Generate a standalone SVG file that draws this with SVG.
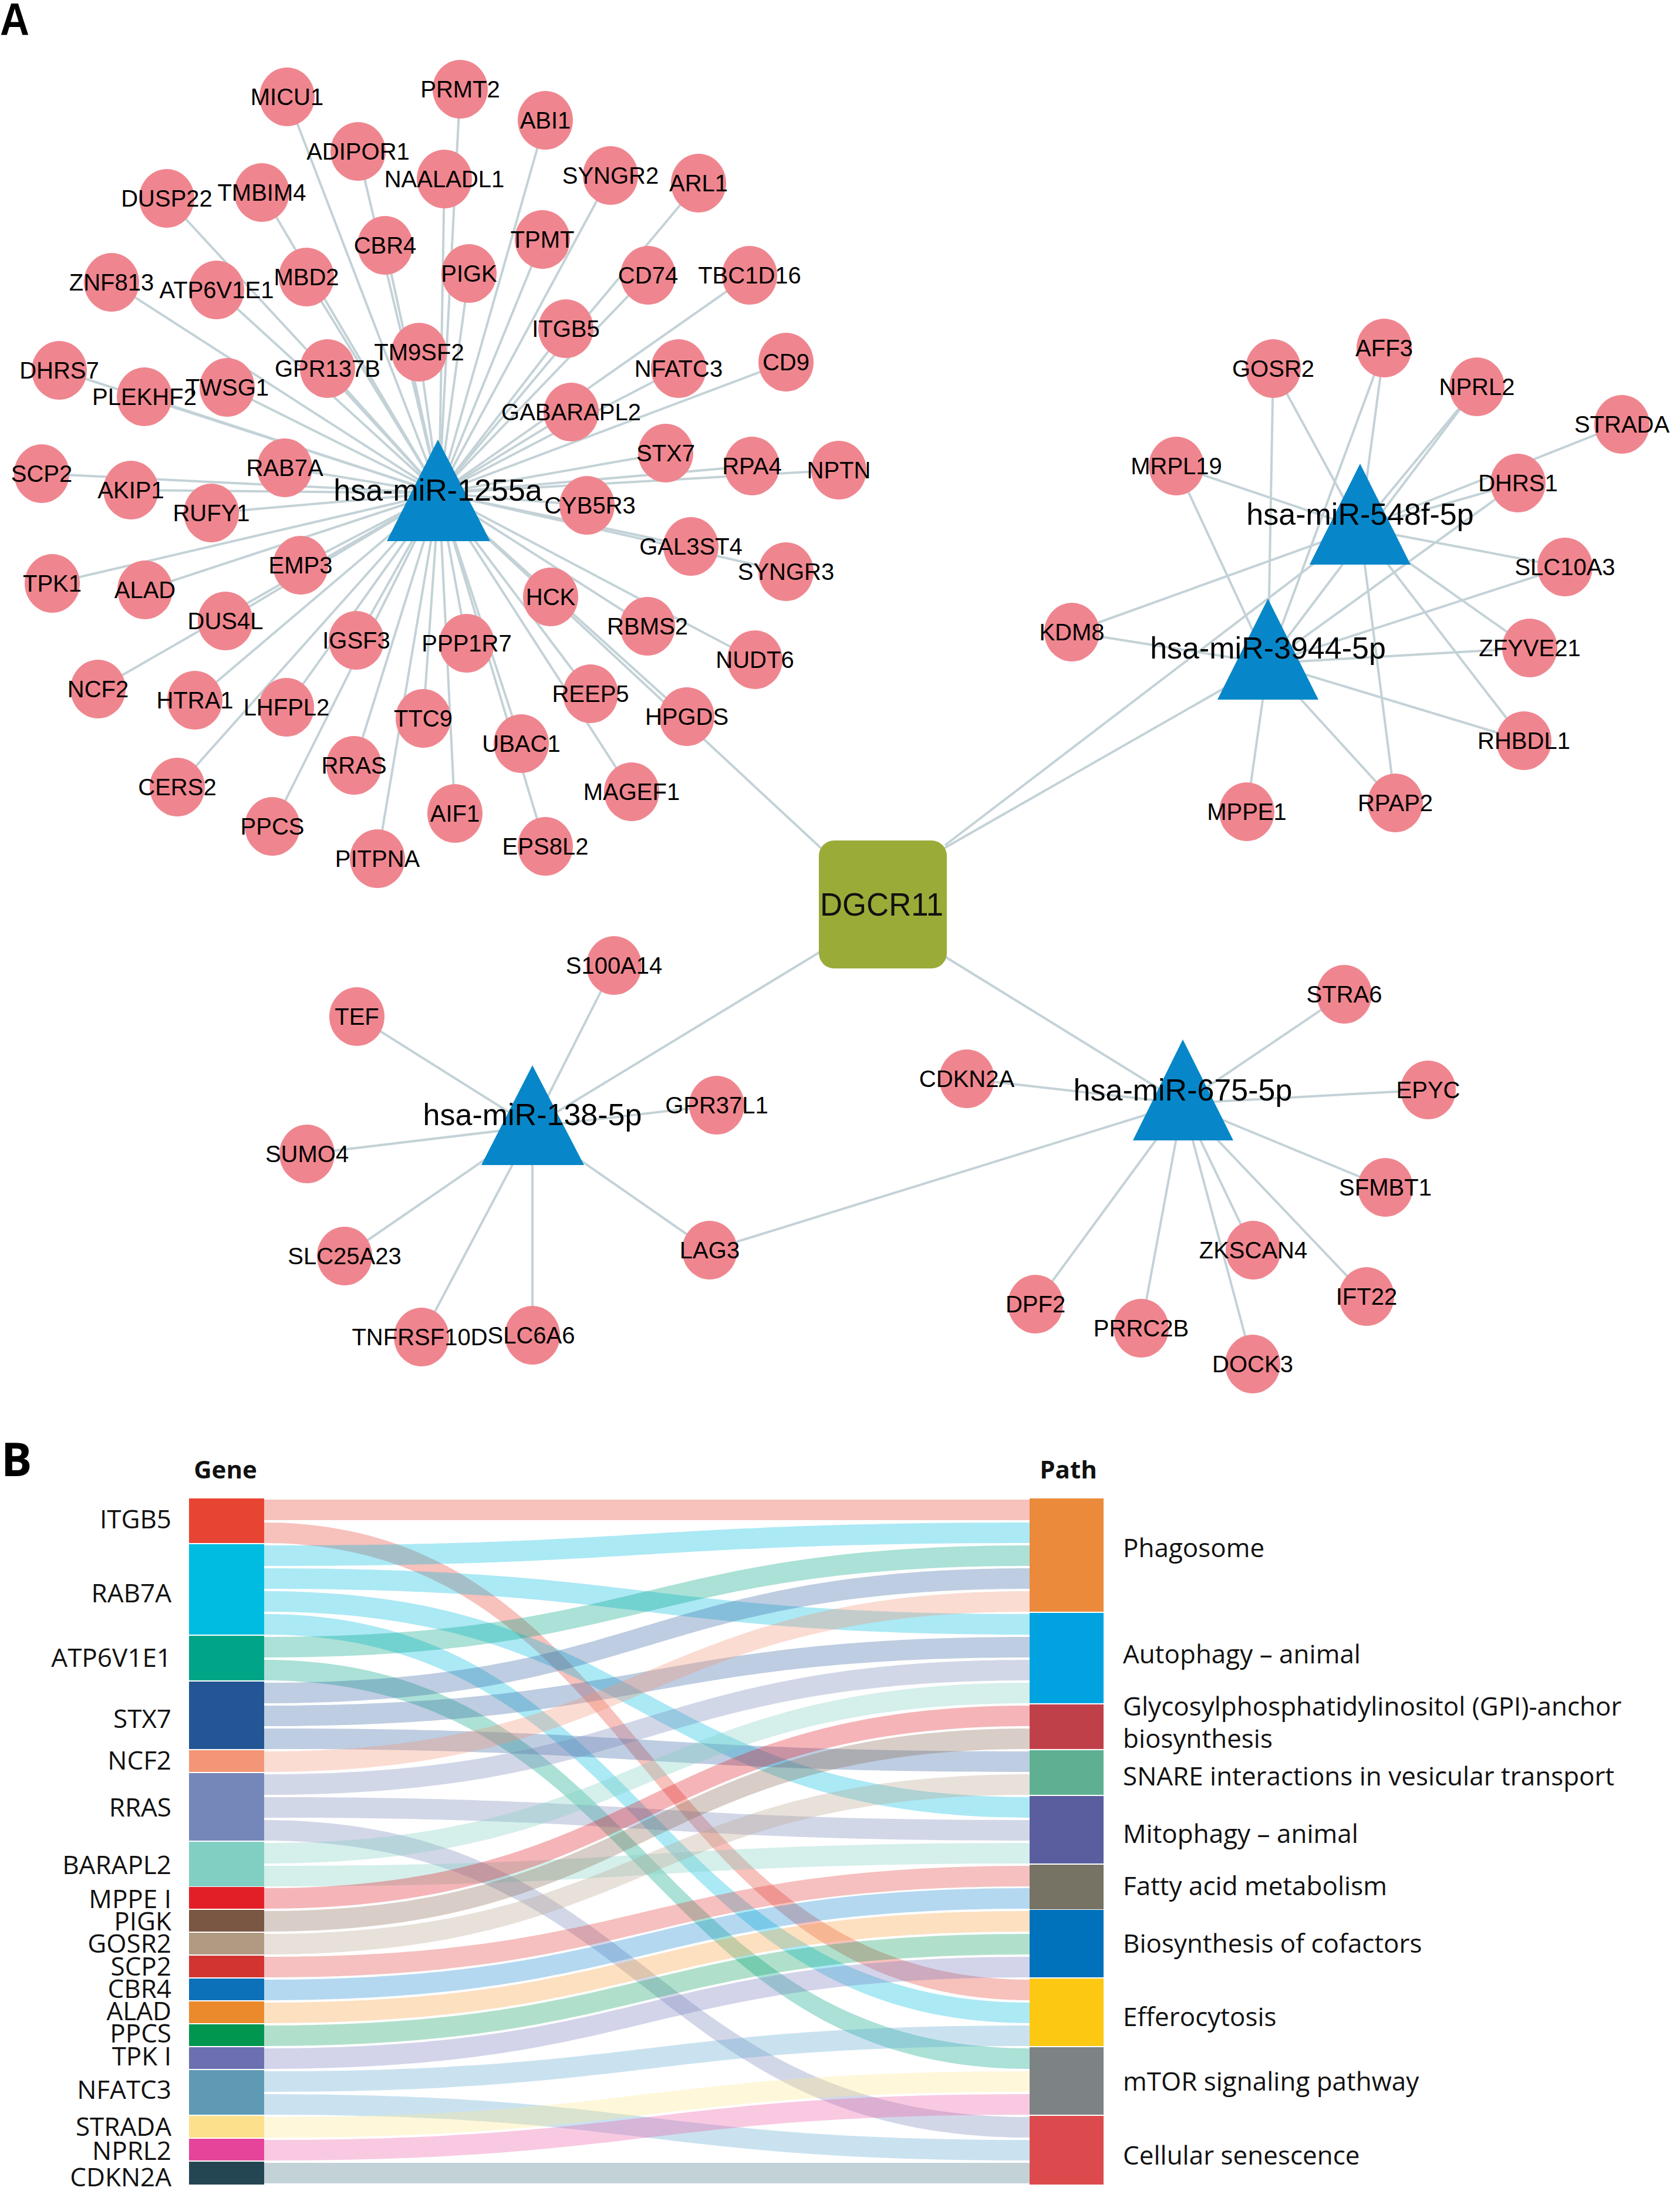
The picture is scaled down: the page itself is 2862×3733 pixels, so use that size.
<svg xmlns="http://www.w3.org/2000/svg" width="2862" height="3733" viewBox="0 0 2862 3733">
<style>
.e{stroke:#c3d2d7;stroke-width:4;fill:none}
.c{fill:#ef868f}
.tri{fill:#0787c9}
.g{font-family:"Liberation Sans",Arial,sans-serif;font-size:40px;text-anchor:middle;fill:#000}
.m{font-family:"Liberation Sans",Arial,sans-serif;font-size:52px;text-anchor:middle;fill:#000}
.gl{font-family:"Open Sans","Noto Sans",sans-serif;font-size:44px;text-anchor:end;fill:#111}
.pl{font-family:"Open Sans","Noto Sans",sans-serif;font-size:44px;fill:#111}
.hd{font-family:"Open Sans","Noto Sans",sans-serif;font-size:42px;font-weight:bold;text-anchor:middle;fill:#111}
.lk path{fill-opacity:0.33}
</style>
<rect width="2862" height="3733" fill="#fff"/>
<text x="0" y="60" font-family="Liberation Sans,Arial,sans-serif" font-size="78" font-weight="bold" textLength="50" lengthAdjust="spacingAndGlyphs">A</text>
<text x="2" y="2515" font-family="Open Sans,Noto Sans,sans-serif" font-size="78" font-weight="bold">B</text>
<g id="connectors">
<line class="e" x1="748" y1="840" x2="1504" y2="1543"/>
<line class="e" x1="1600" y1="1450" x2="2160" y2="1130"/>
<line class="e" x1="1610" y1="1440" x2="2317" y2="900"/>
<line class="e" x1="1400" y1="1620" x2="907" y2="1920"/>
<line class="e" x1="1610" y1="1630" x2="2015" y2="1880"/>
<line class="e" x1="748" y1="840" x2="489" y2="165"/>
<line class="e" x1="748" y1="840" x2="784" y2="152"/>
<line class="e" x1="748" y1="840" x2="929" y2="205"/>
<line class="e" x1="748" y1="840" x2="610" y2="258"/>
<line class="e" x1="748" y1="840" x2="757" y2="305"/>
<line class="e" x1="748" y1="840" x2="1040" y2="299"/>
<line class="e" x1="748" y1="840" x2="1190" y2="312"/>
<line class="e" x1="748" y1="840" x2="284" y2="338"/>
<line class="e" x1="748" y1="840" x2="446" y2="328"/>
<line class="e" x1="748" y1="840" x2="656" y2="418"/>
<line class="e" x1="748" y1="840" x2="924" y2="408"/>
<line class="e" x1="748" y1="840" x2="799" y2="466"/>
<line class="e" x1="748" y1="840" x2="1104" y2="469"/>
<line class="e" x1="748" y1="840" x2="1277" y2="469"/>
<line class="e" x1="748" y1="840" x2="190" y2="481"/>
<line class="e" x1="748" y1="840" x2="369" y2="494"/>
<line class="e" x1="748" y1="840" x2="522" y2="472"/>
<line class="e" x1="748" y1="840" x2="964" y2="560"/>
<line class="e" x1="748" y1="840" x2="714" y2="600"/>
<line class="e" x1="748" y1="840" x2="101" y2="631"/>
<line class="e" x1="748" y1="840" x2="558" y2="628"/>
<line class="e" x1="748" y1="840" x2="1156" y2="628"/>
<line class="e" x1="748" y1="840" x2="1339" y2="617"/>
<line class="e" x1="748" y1="840" x2="246" y2="676"/>
<line class="e" x1="748" y1="840" x2="387" y2="660"/>
<line class="e" x1="748" y1="840" x2="973" y2="702"/>
<line class="e" x1="748" y1="840" x2="1134" y2="772"/>
<line class="e" x1="748" y1="840" x2="1281" y2="794"/>
<line class="e" x1="748" y1="840" x2="1429" y2="801"/>
<line class="e" x1="748" y1="840" x2="71" y2="807"/>
<line class="e" x1="748" y1="840" x2="223" y2="835"/>
<line class="e" x1="748" y1="840" x2="485" y2="797"/>
<line class="e" x1="748" y1="840" x2="360" y2="874"/>
<line class="e" x1="748" y1="840" x2="1000" y2="861"/>
<line class="e" x1="748" y1="840" x2="1177" y2="931"/>
<line class="e" x1="748" y1="840" x2="1339" y2="974"/>
<line class="e" x1="748" y1="840" x2="512" y2="963"/>
<line class="e" x1="748" y1="840" x2="89" y2="994"/>
<line class="e" x1="748" y1="840" x2="247" y2="1005"/>
<line class="e" x1="748" y1="840" x2="938" y2="1017"/>
<line class="e" x1="748" y1="840" x2="384" y2="1058"/>
<line class="e" x1="748" y1="840" x2="1103" y2="1067"/>
<line class="e" x1="748" y1="840" x2="607" y2="1091"/>
<line class="e" x1="748" y1="840" x2="795" y2="1096"/>
<line class="e" x1="748" y1="840" x2="1286" y2="1124"/>
<line class="e" x1="748" y1="840" x2="167" y2="1174"/>
<line class="e" x1="748" y1="840" x2="332" y2="1193"/>
<line class="e" x1="748" y1="840" x2="488" y2="1205"/>
<line class="e" x1="748" y1="840" x2="1006" y2="1182"/>
<line class="e" x1="748" y1="840" x2="721" y2="1224"/>
<line class="e" x1="748" y1="840" x2="1170" y2="1221"/>
<line class="e" x1="748" y1="840" x2="888" y2="1267"/>
<line class="e" x1="748" y1="840" x2="603" y2="1304"/>
<line class="e" x1="748" y1="840" x2="302" y2="1341"/>
<line class="e" x1="748" y1="840" x2="1076" y2="1349"/>
<line class="e" x1="748" y1="840" x2="775" y2="1386"/>
<line class="e" x1="748" y1="840" x2="464" y2="1408"/>
<line class="e" x1="748" y1="840" x2="929" y2="1442"/>
<line class="e" x1="748" y1="840" x2="643" y2="1463"/>
<line class="e" x1="2317" y1="900" x2="2169" y2="628"/>
<line class="e" x1="2317" y1="900" x2="2358" y2="593"/>
<line class="e" x1="2317" y1="900" x2="2516" y2="659"/>
<line class="e" x1="2317" y1="900" x2="2763" y2="723"/>
<line class="e" x1="2317" y1="900" x2="2004" y2="794"/>
<line class="e" x1="2317" y1="900" x2="2586" y2="823"/>
<line class="e" x1="2317" y1="900" x2="2666" y2="966"/>
<line class="e" x1="2317" y1="900" x2="1826" y2="1077"/>
<line class="e" x1="2317" y1="900" x2="2606" y2="1104"/>
<line class="e" x1="2317" y1="900" x2="2596" y2="1262"/>
<line class="e" x1="2317" y1="900" x2="2377" y2="1368"/>
<line class="e" x1="2160" y1="1130" x2="2169" y2="628"/>
<line class="e" x1="2160" y1="1130" x2="2358" y2="593"/>
<line class="e" x1="2160" y1="1130" x2="2516" y2="659"/>
<line class="e" x1="2160" y1="1130" x2="2004" y2="794"/>
<line class="e" x1="2160" y1="1130" x2="2586" y2="823"/>
<line class="e" x1="2160" y1="1130" x2="2666" y2="966"/>
<line class="e" x1="2160" y1="1130" x2="1826" y2="1077"/>
<line class="e" x1="2160" y1="1130" x2="2606" y2="1104"/>
<line class="e" x1="2160" y1="1130" x2="2596" y2="1262"/>
<line class="e" x1="2160" y1="1130" x2="2124" y2="1383"/>
<line class="e" x1="2160" y1="1130" x2="2377" y2="1368"/>
<line class="e" x1="907" y1="1920" x2="1046" y2="1645"/>
<line class="e" x1="907" y1="1920" x2="608" y2="1732"/>
<line class="e" x1="907" y1="1920" x2="1221" y2="1883"/>
<line class="e" x1="907" y1="1920" x2="523" y2="1966"/>
<line class="e" x1="907" y1="1920" x2="587" y2="2140"/>
<line class="e" x1="907" y1="1920" x2="718" y2="2278"/>
<line class="e" x1="907" y1="1920" x2="907" y2="2275"/>
<line class="e" x1="907" y1="1920" x2="1209" y2="2130"/>
<line class="e" x1="2015" y1="1880" x2="1209" y2="2130"/>
<line class="e" x1="2015" y1="1880" x2="2290" y2="1694"/>
<line class="e" x1="2015" y1="1880" x2="1647" y2="1838"/>
<line class="e" x1="2015" y1="1880" x2="2433" y2="1857"/>
<line class="e" x1="2015" y1="1880" x2="2360" y2="2023"/>
<line class="e" x1="2015" y1="1880" x2="2135" y2="2130"/>
<line class="e" x1="2015" y1="1880" x2="2328" y2="2209"/>
<line class="e" x1="2015" y1="1880" x2="1764" y2="2222"/>
<line class="e" x1="2015" y1="1880" x2="1944" y2="2263"/>
<line class="e" x1="2015" y1="1880" x2="2134" y2="2324"/>
</g>
<g id="n-DGCR11"><rect x="1395" y="1432" width="218" height="218" rx="26" fill="#9bab38"/><text x="1502" y="1560" font-family="Liberation Sans,Arial,sans-serif" font-size="56" text-anchor="middle" textLength="210" lengthAdjust="spacingAndGlyphs" fill="#111">DGCR11</text></g>
<g id="n-miR1255a"><polygon class="tri" points="746,749 835,922 659,922"/></g>
<g id="n-miR548f"><polygon class="tri" points="2317,790 2403,962 2231,962"/></g>
<g id="n-miR3944"><polygon class="tri" points="2160,1020 2246,1192 2074,1192"/></g>
<g id="n-miR138"><polygon class="tri" points="907,1815 995,1985 820,1985"/></g>
<g id="n-miR675"><polygon class="tri" points="2015,1771 2101,1943 1930,1943"/></g>
<g id="n-MICU1"><ellipse class="c" cx="489" cy="165" rx="47" ry="50"/><text class="g" x="489" y="179">MICU1</text></g>
<g id="n-PRMT2"><ellipse class="c" cx="784" cy="152" rx="47" ry="50"/><text class="g" x="784" y="166">PRMT2</text></g>
<g id="n-ABI1"><ellipse class="c" cx="929" cy="205" rx="47" ry="50"/><text class="g" x="929" y="219">ABI1</text></g>
<g id="n-ADIPOR1"><ellipse class="c" cx="610" cy="258" rx="47" ry="50"/><text class="g" x="610" y="272">ADIPOR1</text></g>
<g id="n-NAALADL1"><ellipse class="c" cx="757" cy="305" rx="47" ry="50"/><text class="g" x="757" y="319">NAALADL1</text></g>
<g id="n-SYNGR2"><ellipse class="c" cx="1040" cy="299" rx="47" ry="50"/><text class="g" x="1040" y="313">SYNGR2</text></g>
<g id="n-ARL1"><ellipse class="c" cx="1190" cy="312" rx="47" ry="50"/><text class="g" x="1190" y="326">ARL1</text></g>
<g id="n-DUSP22"><ellipse class="c" cx="284" cy="338" rx="47" ry="50"/><text class="g" x="284" y="352">DUSP22</text></g>
<g id="n-TMBIM4"><ellipse class="c" cx="446" cy="328" rx="47" ry="50"/><text class="g" x="446" y="342">TMBIM4</text></g>
<g id="n-CBR4"><ellipse class="c" cx="656" cy="418" rx="47" ry="50"/><text class="g" x="656" y="432">CBR4</text></g>
<g id="n-TPMT"><ellipse class="c" cx="924" cy="408" rx="47" ry="50"/><text class="g" x="924" y="422">TPMT</text></g>
<g id="n-PIGK"><ellipse class="c" cx="799" cy="466" rx="47" ry="50"/><text class="g" x="799" y="480">PIGK</text></g>
<g id="n-CD74"><ellipse class="c" cx="1104" cy="469" rx="47" ry="50"/><text class="g" x="1104" y="483">CD74</text></g>
<g id="n-TBC1D16"><ellipse class="c" cx="1277" cy="469" rx="47" ry="50"/><text class="g" x="1277" y="483">TBC1D16</text></g>
<g id="n-ZNF813"><ellipse class="c" cx="190" cy="481" rx="47" ry="50"/><text class="g" x="190" y="495">ZNF813</text></g>
<g id="n-ATP6V1E1"><ellipse class="c" cx="369" cy="494" rx="47" ry="50"/><text class="g" x="369" y="508">ATP6V1E1</text></g>
<g id="n-MBD2"><ellipse class="c" cx="522" cy="472" rx="47" ry="50"/><text class="g" x="522" y="486">MBD2</text></g>
<g id="n-ITGB5"><ellipse class="c" cx="964" cy="560" rx="47" ry="50"/><text class="g" x="964" y="574">ITGB5</text></g>
<g id="n-TM9SF2"><ellipse class="c" cx="714" cy="600" rx="47" ry="50"/><text class="g" x="714" y="614">TM9SF2</text></g>
<g id="n-DHRS7"><ellipse class="c" cx="101" cy="631" rx="47" ry="50"/><text class="g" x="101" y="645">DHRS7</text></g>
<g id="n-GPR137B"><ellipse class="c" cx="558" cy="628" rx="47" ry="50"/><text class="g" x="558" y="642">GPR137B</text></g>
<g id="n-NFATC3"><ellipse class="c" cx="1156" cy="628" rx="47" ry="50"/><text class="g" x="1156" y="642">NFATC3</text></g>
<g id="n-CD9"><ellipse class="c" cx="1339" cy="617" rx="47" ry="50"/><text class="g" x="1339" y="631">CD9</text></g>
<g id="n-PLEKHF2"><ellipse class="c" cx="246" cy="676" rx="47" ry="50"/><text class="g" x="246" y="690">PLEKHF2</text></g>
<g id="n-TWSG1"><ellipse class="c" cx="387" cy="660" rx="47" ry="50"/><text class="g" x="387" y="674">TWSG1</text></g>
<g id="n-GABARAPL2"><ellipse class="c" cx="973" cy="702" rx="47" ry="50"/><text class="g" x="973" y="716">GABARAPL2</text></g>
<g id="n-STX7"><ellipse class="c" cx="1134" cy="772" rx="47" ry="50"/><text class="g" x="1134" y="786">STX7</text></g>
<g id="n-RPA4"><ellipse class="c" cx="1281" cy="794" rx="47" ry="50"/><text class="g" x="1281" y="808">RPA4</text></g>
<g id="n-NPTN"><ellipse class="c" cx="1429" cy="801" rx="47" ry="50"/><text class="g" x="1429" y="815">NPTN</text></g>
<g id="n-SCP2"><ellipse class="c" cx="71" cy="807" rx="47" ry="50"/><text class="g" x="71" y="821">SCP2</text></g>
<g id="n-AKIP1"><ellipse class="c" cx="223" cy="835" rx="47" ry="50"/><text class="g" x="223" y="849">AKIP1</text></g>
<g id="n-RAB7A"><ellipse class="c" cx="485" cy="797" rx="47" ry="50"/><text class="g" x="485" y="811">RAB7A</text></g>
<g id="n-RUFY1"><ellipse class="c" cx="360" cy="874" rx="47" ry="50"/><text class="g" x="360" y="888">RUFY1</text></g>
<g id="n-CYB5R3"><ellipse class="c" cx="1000" cy="861" rx="47" ry="50"/><text class="g" x="1005" y="875">CYB5R3</text></g>
<g id="n-GAL3ST4"><ellipse class="c" cx="1177" cy="931" rx="47" ry="50"/><text class="g" x="1177" y="945">GAL3ST4</text></g>
<g id="n-SYNGR3"><ellipse class="c" cx="1339" cy="974" rx="47" ry="50"/><text class="g" x="1339" y="988">SYNGR3</text></g>
<g id="n-EMP3"><ellipse class="c" cx="512" cy="963" rx="47" ry="50"/><text class="g" x="512" y="977">EMP3</text></g>
<g id="n-TPK1"><ellipse class="c" cx="89" cy="994" rx="47" ry="50"/><text class="g" x="89" y="1008">TPK1</text></g>
<g id="n-ALAD"><ellipse class="c" cx="247" cy="1005" rx="47" ry="50"/><text class="g" x="247" y="1019">ALAD</text></g>
<g id="n-HCK"><ellipse class="c" cx="938" cy="1017" rx="47" ry="50"/><text class="g" x="938" y="1031">HCK</text></g>
<g id="n-DUS4L"><ellipse class="c" cx="384" cy="1058" rx="47" ry="50"/><text class="g" x="384" y="1072">DUS4L</text></g>
<g id="n-RBMS2"><ellipse class="c" cx="1103" cy="1067" rx="47" ry="50"/><text class="g" x="1103" y="1081">RBMS2</text></g>
<g id="n-IGSF3"><ellipse class="c" cx="607" cy="1091" rx="47" ry="50"/><text class="g" x="607" y="1105">IGSF3</text></g>
<g id="n-PPP1R7"><ellipse class="c" cx="795" cy="1096" rx="47" ry="50"/><text class="g" x="795" y="1110">PPP1R7</text></g>
<g id="n-NUDT6"><ellipse class="c" cx="1286" cy="1124" rx="47" ry="50"/><text class="g" x="1286" y="1138">NUDT6</text></g>
<g id="n-NCF2"><ellipse class="c" cx="167" cy="1174" rx="47" ry="50"/><text class="g" x="167" y="1188">NCF2</text></g>
<g id="n-HTRA1"><ellipse class="c" cx="332" cy="1193" rx="47" ry="50"/><text class="g" x="332" y="1207">HTRA1</text></g>
<g id="n-LHFPL2"><ellipse class="c" cx="488" cy="1205" rx="47" ry="50"/><text class="g" x="488" y="1219">LHFPL2</text></g>
<g id="n-REEP5"><ellipse class="c" cx="1006" cy="1182" rx="47" ry="50"/><text class="g" x="1006" y="1196">REEP5</text></g>
<g id="n-TTC9"><ellipse class="c" cx="721" cy="1224" rx="47" ry="50"/><text class="g" x="721" y="1238">TTC9</text></g>
<g id="n-HPGDS"><ellipse class="c" cx="1170" cy="1221" rx="47" ry="50"/><text class="g" x="1170" y="1235">HPGDS</text></g>
<g id="n-UBAC1"><ellipse class="c" cx="888" cy="1267" rx="47" ry="50"/><text class="g" x="888" y="1281">UBAC1</text></g>
<g id="n-RRAS"><ellipse class="c" cx="603" cy="1304" rx="47" ry="50"/><text class="g" x="603" y="1318">RRAS</text></g>
<g id="n-CERS2"><ellipse class="c" cx="302" cy="1341" rx="47" ry="50"/><text class="g" x="302" y="1355">CERS2</text></g>
<g id="n-MAGEF1"><ellipse class="c" cx="1076" cy="1349" rx="47" ry="50"/><text class="g" x="1076" y="1363">MAGEF1</text></g>
<g id="n-AIF1"><ellipse class="c" cx="775" cy="1386" rx="47" ry="50"/><text class="g" x="775" y="1400">AIF1</text></g>
<g id="n-PPCS"><ellipse class="c" cx="464" cy="1408" rx="47" ry="50"/><text class="g" x="464" y="1422">PPCS</text></g>
<g id="n-EPS8L2"><ellipse class="c" cx="929" cy="1442" rx="47" ry="50"/><text class="g" x="929" y="1456">EPS8L2</text></g>
<g id="n-PITPNA"><ellipse class="c" cx="643" cy="1463" rx="47" ry="50"/><text class="g" x="643" y="1477">PITPNA</text></g>
<g id="n-GOSR2"><ellipse class="c" cx="2169" cy="628" rx="47" ry="50"/><text class="g" x="2169" y="642">GOSR2</text></g>
<g id="n-AFF3"><ellipse class="c" cx="2358" cy="593" rx="47" ry="50"/><text class="g" x="2358" y="607">AFF3</text></g>
<g id="n-NPRL2"><ellipse class="c" cx="2516" cy="659" rx="47" ry="50"/><text class="g" x="2516" y="673">NPRL2</text></g>
<g id="n-STRADA"><ellipse class="c" cx="2763" cy="723" rx="47" ry="50"/><text class="g" x="2763" y="737">STRADA</text></g>
<g id="n-MRPL19"><ellipse class="c" cx="2004" cy="794" rx="47" ry="50"/><text class="g" x="2004" y="808">MRPL19</text></g>
<g id="n-DHRS1"><ellipse class="c" cx="2586" cy="823" rx="47" ry="50"/><text class="g" x="2586" y="837">DHRS1</text></g>
<g id="n-SLC10A3"><ellipse class="c" cx="2666" cy="966" rx="47" ry="50"/><text class="g" x="2666" y="980">SLC10A3</text></g>
<g id="n-KDM8"><ellipse class="c" cx="1826" cy="1077" rx="47" ry="50"/><text class="g" x="1826" y="1091">KDM8</text></g>
<g id="n-ZFYVE21"><ellipse class="c" cx="2606" cy="1104" rx="47" ry="50"/><text class="g" x="2606" y="1118">ZFYVE21</text></g>
<g id="n-RHBDL1"><ellipse class="c" cx="2596" cy="1262" rx="47" ry="50"/><text class="g" x="2596" y="1276">RHBDL1</text></g>
<g id="n-MPPE1"><ellipse class="c" cx="2124" cy="1383" rx="47" ry="50"/><text class="g" x="2124" y="1397">MPPE1</text></g>
<g id="n-RPAP2"><ellipse class="c" cx="2377" cy="1368" rx="47" ry="50"/><text class="g" x="2377" y="1382">RPAP2</text></g>
<g id="n-S100A14"><ellipse class="c" cx="1046" cy="1645" rx="47" ry="50"/><text class="g" x="1046" y="1659">S100A14</text></g>
<g id="n-TEF"><ellipse class="c" cx="608" cy="1732" rx="47" ry="50"/><text class="g" x="608" y="1746">TEF</text></g>
<g id="n-GPR37L1"><ellipse class="c" cx="1221" cy="1883" rx="47" ry="50"/><text class="g" x="1221" y="1897">GPR37L1</text></g>
<g id="n-SUMO4"><ellipse class="c" cx="523" cy="1966" rx="47" ry="50"/><text class="g" x="523" y="1980">SUMO4</text></g>
<g id="n-SLC25A23"><ellipse class="c" cx="587" cy="2140" rx="47" ry="50"/><text class="g" x="587" y="2154">SLC25A23</text></g>
<g id="n-LAG3"><ellipse class="c" cx="1209" cy="2130" rx="47" ry="50"/><text class="g" x="1209" y="2144">LAG3</text></g>
<g id="n-SLC6A6"><ellipse class="c" cx="907" cy="2275" rx="47" ry="50"/><text class="g" x="905" y="2289">SLC6A6</text></g>
<g id="n-TNFRSF10D"><ellipse class="c" cx="718" cy="2278" rx="47" ry="50"/><text class="g" x="715" y="2292">TNFRSF10D</text></g>
<g id="n-STRA6"><ellipse class="c" cx="2290" cy="1694" rx="47" ry="50"/><text class="g" x="2290" y="1708">STRA6</text></g>
<g id="n-CDKN2A"><ellipse class="c" cx="1647" cy="1838" rx="47" ry="50"/><text class="g" x="1647" y="1852">CDKN2A</text></g>
<g id="n-EPYC"><ellipse class="c" cx="2433" cy="1857" rx="47" ry="50"/><text class="g" x="2433" y="1871">EPYC</text></g>
<g id="n-SFMBT1"><ellipse class="c" cx="2360" cy="2023" rx="47" ry="50"/><text class="g" x="2360" y="2037">SFMBT1</text></g>
<g id="n-ZKSCAN4"><ellipse class="c" cx="2135" cy="2130" rx="47" ry="50"/><text class="g" x="2135" y="2144">ZKSCAN4</text></g>
<g id="n-IFT22"><ellipse class="c" cx="2328" cy="2209" rx="47" ry="50"/><text class="g" x="2328" y="2223">IFT22</text></g>
<g id="n-DPF2"><ellipse class="c" cx="1764" cy="2222" rx="47" ry="50"/><text class="g" x="1764" y="2236">DPF2</text></g>
<g id="n-PRRC2B"><ellipse class="c" cx="1944" cy="2263" rx="47" ry="50"/><text class="g" x="1944" y="2277">PRRC2B</text></g>
<g id="n-DOCK3"><ellipse class="c" cx="2134" cy="2324" rx="47" ry="50"/><text class="g" x="2134" y="2338">DOCK3</text></g>
<g id="mir-labels">
<text class="m" x="746" y="853">hsa-miR-1255a</text>
<text class="m" x="2317" y="894">hsa-miR-548f-5p</text>
<text class="m" x="2160" y="1122">hsa-miR-3944-5p</text>
<text class="m" x="907" y="1917">hsa-miR-138-5p</text>
<text class="m" x="2015" y="1875">hsa-miR-675-5p</text>
</g>
<g id="sankey-links" class="lk">
<path fill="#e84433" d="M450,2555C1102,2555 1102,2555 1754,2555L1754,2590C1102,2590 1102,2590 450,2590Z"/>
<path fill="#e84433" d="M450,2594C1102,2594 1102,3373 1754,3373L1754,3408C1102,3408 1102,2629 450,2629Z"/>
<path fill="#00bce0" d="M450,2633C1102,2633 1102,2594 1754,2594L1754,2629C1102,2629 1102,2668 450,2668Z"/>
<path fill="#00bce0" d="M450,2672C1102,2672 1102,2750 1754,2750L1754,2785C1102,2785 1102,2707 450,2707Z"/>
<path fill="#00bce0" d="M450,2711C1102,2711 1102,3062 1754,3062L1754,3097C1102,3097 1102,2746 450,2746Z"/>
<path fill="#00bce0" d="M450,2750C1102,2750 1102,3412 1754,3412L1754,3447C1102,3447 1102,2785 450,2785Z"/>
<path fill="#00a487" d="M450,2789C1102,2789 1102,2633 1754,2633L1754,2668C1102,2668 1102,2824 450,2824Z"/>
<path fill="#00a487" d="M450,2828C1102,2828 1102,3490 1754,3490L1754,3525C1102,3525 1102,2863 450,2863Z"/>
<path fill="#3b66a3" d="M450,2867C1102,2867 1102,2672 1754,2672L1754,2707C1102,2707 1102,2902 450,2902Z"/>
<path fill="#3b66a3" d="M450,2906C1102,2906 1102,2789 1754,2789L1754,2824C1102,2824 1102,2941 450,2941Z"/>
<path fill="#3b66a3" d="M450,2945C1102,2945 1102,2984 1754,2984L1754,3019C1102,3019 1102,2980 450,2980Z"/>
<path fill="#f39677" d="M450,2984C1102,2984 1102,2711 1754,2711L1754,2746C1102,2746 1102,3019 450,3019Z"/>
<path fill="#7587b8" d="M450,3023C1102,3023 1102,2828 1754,2828L1754,2863C1102,2863 1102,3058 450,3058Z"/>
<path fill="#7587b8" d="M450,3062C1102,3062 1102,3101 1754,3101L1754,3136C1102,3136 1102,3097 450,3097Z"/>
<path fill="#7587b8" d="M450,3101C1102,3101 1102,3607 1754,3607L1754,3642C1102,3642 1102,3136 450,3136Z"/>
<path fill="#80cfc2" d="M450,3140C1102,3140 1102,2867 1754,2867L1754,2902C1102,2902 1102,3175 450,3175Z"/>
<path fill="#80cfc2" d="M450,3179C1102,3179 1102,3140 1754,3140L1754,3175C1102,3175 1102,3214 450,3214Z"/>
<path fill="#e21f26" d="M450,3217C1102,3217 1102,2906 1754,2906L1754,2941C1102,2941 1102,3252 450,3252Z"/>
<path fill="#8a6a55" d="M450,3256C1102,3256 1102,2945 1754,2945L1754,2980C1102,2980 1102,3291 450,3291Z"/>
<path fill="#b8a590" d="M450,3295C1102,3295 1102,3023 1754,3023L1754,3058C1102,3058 1102,3330 450,3330Z"/>
<path fill="#e0403d" d="M450,3334C1102,3334 1102,3179 1754,3179L1754,3214C1102,3214 1102,3369 450,3369Z"/>
<path fill="#1a8ad0" d="M450,3373C1102,3373 1102,3217 1754,3217L1754,3252C1102,3252 1102,3408 450,3408Z"/>
<path fill="#f5a040" d="M450,3412C1102,3412 1102,3256 1754,3256L1754,3291C1102,3291 1102,3447 450,3447Z"/>
<path fill="#10a060" d="M450,3451C1102,3451 1102,3295 1754,3295L1754,3330C1102,3330 1102,3486 450,3486Z"/>
<path fill="#7a7cc0" d="M450,3490C1102,3490 1102,3334 1754,3334L1754,3369C1102,3369 1102,3525 450,3525Z"/>
<path fill="#5fa8d0" d="M450,3529C1102,3529 1102,3451 1754,3451L1754,3486C1102,3486 1102,3564 450,3564Z"/>
<path fill="#5fa8d0" d="M450,3568C1102,3568 1102,3646 1754,3646L1754,3681C1102,3681 1102,3603 450,3603Z"/>
<path fill="#fde68c" d="M450,3607C1102,3607 1102,3529 1754,3529L1754,3564C1102,3564 1102,3642 450,3642Z"/>
<path fill="#ec5aa8" d="M450,3646C1102,3646 1102,3568 1754,3568L1754,3603C1102,3603 1102,3681 450,3681Z"/>
<path fill="#4a7585" d="M450,3685C1102,3685 1102,3685 1754,3685L1754,3720C1102,3720 1102,3720 450,3720Z"/>
</g>
<g id="gene-bar">
<rect x="322" y="2553" width="128" height="76" fill="#e84433"/>
<rect x="322" y="2631" width="128" height="154" fill="#00bce0"/>
<rect x="322" y="2787" width="128" height="76" fill="#00a487"/>
<rect x="322" y="2865" width="128" height="115" fill="#245594"/>
<rect x="322" y="2982" width="128" height="37" fill="#f39677"/>
<rect x="322" y="3021" width="128" height="115" fill="#7587b8"/>
<rect x="322" y="3138" width="128" height="76" fill="#80cfc2"/>
<rect x="322" y="3215" width="128" height="37" fill="#e21f26"/>
<rect x="322" y="3254" width="128" height="37" fill="#7a5743"/>
<rect x="322" y="3293" width="128" height="37" fill="#b09a82"/>
<rect x="322" y="3332" width="128" height="37" fill="#d23431"/>
<rect x="322" y="3371" width="128" height="37" fill="#0d71b9"/>
<rect x="322" y="3410" width="128" height="37" fill="#ea8a2d"/>
<rect x="322" y="3449" width="128" height="37" fill="#009650"/>
<rect x="322" y="3488" width="128" height="37" fill="#6c6fb1"/>
<rect x="322" y="3527" width="128" height="76" fill="#5f9ab4"/>
<rect x="322" y="3605" width="128" height="37" fill="#fde08c"/>
<rect x="322" y="3644" width="128" height="37" fill="#e5449a"/>
<rect x="322" y="3683" width="128" height="39" fill="#244652"/>
</g>
<g id="path-bar">
<rect x="1754" y="2553" width="126" height="193" fill="#ea8a3a"/>
<rect x="1754" y="2748" width="126" height="154" fill="#00a3e0"/>
<rect x="1754" y="2904" width="126" height="76" fill="#c0404a"/>
<rect x="1754" y="2982" width="126" height="76" fill="#5fb093"/>
<rect x="1754" y="3060" width="126" height="115" fill="#5a5e9e"/>
<rect x="1754" y="3177" width="126" height="76" fill="#767264"/>
<rect x="1754" y="3254" width="126" height="115" fill="#0071bb"/>
<rect x="1754" y="3371" width="126" height="115" fill="#fcc812"/>
<rect x="1754" y="3488" width="126" height="115" fill="#7d8285"/>
<rect x="1754" y="3605" width="126" height="117" fill="#dd4a4d"/>
</g>
<g id="sankey-labels">
<text class="hd" x="384" y="2519">Gene</text>
<text class="hd" x="1820" y="2519">Path</text>
<text class="gl" x="292" y="2604">ITGB5</text>
<text class="gl" x="292" y="2730">RAB7A</text>
<text class="gl" x="292" y="2840">ATP6V1E1</text>
<text class="gl" x="292" y="2944">STX7</text>
<text class="gl" x="292" y="3015">NCF2</text>
<text class="gl" x="292" y="3095">RRAS</text>
<text class="gl" x="292" y="3193">BARAPL2</text>
<text class="gl" x="292" y="3251">MPPE I</text>
<text class="gl" x="292" y="3289">PIGK</text>
<text class="gl" x="292" y="3327">GOSR2</text>
<text class="gl" x="292" y="3366">SCP2</text>
<text class="gl" x="292" y="3404">CBR4</text>
<text class="gl" x="292" y="3442">ALAD</text>
<text class="gl" x="292" y="3480">PPCS</text>
<text class="gl" x="292" y="3519">TPK I</text>
<text class="gl" x="292" y="3576">NFATC3</text>
<text class="gl" x="292" y="3639">STRADA</text>
<text class="gl" x="292" y="3680">NPRL2</text>
<text class="gl" x="292" y="3725">CDKN2A</text>
<text class="pl" x="1913" y="2653">Phagosome</text>
<text class="pl" x="1913" y="2834">Autophagy – animal</text>
<text class="pl" x="1913" y="2923">Glycosylphosphatidylinositol (GPI)-anchor</text>
<text class="pl" x="1913" y="2978">biosynthesis</text>
<text class="pl" x="1913" y="3042">SNARE interactions in vesicular transport</text>
<text class="pl" x="1913" y="3140">Mitophagy – animal</text>
<text class="pl" x="1913" y="3229">Fatty acid metabolism</text>
<text class="pl" x="1913" y="3327">Biosynthesis of cofactors</text>
<text class="pl" x="1913" y="3452">Efferocytosis</text>
<text class="pl" x="1913" y="3562">mTOR signaling pathway</text>
<text class="pl" x="1913" y="3688">Cellular senescence</text>
</g>
</svg>
